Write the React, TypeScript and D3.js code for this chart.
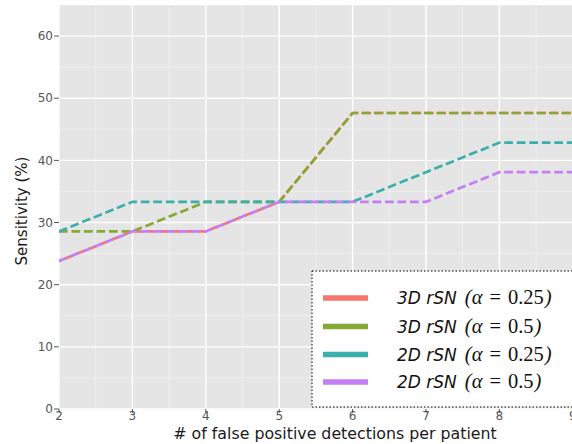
import React from "react";
import * as d3 from "d3";

const fpPerPatient = [2, 3, 4, 5, 6, 7, 8, 9];
const rsn3dA025 = [23.81, 28.57, 28.57, 33.33, 47.62, 47.62, 47.62, 47.62];
const rsn3dA05 = [28.57, 28.57, 33.33, 33.33, 47.62, 47.62, 47.62, 47.62];
const rsn2dA025 = [28.57, 33.33, 33.33, 33.33, 33.33, 38.1, 42.86, 42.86];
const rsn2dA05 = [23.81, 28.57, 28.57, 33.33, 33.33, 33.33, 38.1, 38.1];

const seriesNames = ["3D rSN", "3D rSN", "2D rSN", "2D rSN"];
const seriesAlphas = ["0.25", "0.5", "0.25", "0.5"];
const seriesValues = [rsn3dA025, rsn3dA05, rsn2dA025, rsn2dA05];
const seriesColors = ["#F8766D", "#86A834", "#3AAFAB", "#C47FF7"];
const seriesDashOffsets = [5.75, 0, 0, 0];

const yTicks = [0, 10, 20, 30, 40, 50, 60];
const yMinorTicks = [5, 15, 25, 35, 45, 55, 65];
const xTicks = [2, 3, 4, 5, 6, 7, 8, 9];
const xMinorTicks = [2.5, 3.5, 4.5, 5.5, 6.5, 7.5, 8.5];

const W = 572;
const H = 444;
const left = 59;
const top = 5;
const bottom = 409;
const panelRight = 600;

export default function App() {
  const x = d3.scaleLinear().domain([2, 9]).range([left, left + 7 * 73.4]);
  const y = d3.scaleLinear().domain([0, 65]).range([bottom, top]);
  const line = d3
    .line<number>()
    .x((_, i) => x(fpPerPatient[i]))
    .y((d) => y(d));

  const tickColor = "#555555";
  const legendX = 312;
  const legendY = 271;
  const rowY = [298, 326.5, 354.5, 382];
  const serif = "Liberation Serif, DejaVu Serif, serif";

  return (
    <svg
      width={W}
      height={H}
      style={{ position: "absolute", left: 0, top: 0, background: "#fff" }}
      fontFamily="DejaVu Sans, sans-serif"
    >
      <defs>
        <clipPath id="panel">
          <rect x={left} y={top} width={panelRight - left} height={bottom - top} />
        </clipPath>
      </defs>
      <rect x={left} y={top} width={panelRight - left} height={bottom - top} fill="#E5E5E5" />
      {/* minor grid */}
      {xMinorTicks.map((t) => (
        <line key={"xm" + t} x1={x(t)} x2={x(t)} y1={top} y2={bottom} stroke="#ffffff" strokeOpacity={0.55} strokeWidth={0.7} />
      ))}
      {yMinorTicks.map((t) => (
        <line key={"ym" + t} x1={left} x2={panelRight} y1={y(t)} y2={y(t)} stroke="#ffffff" strokeOpacity={0.55} strokeWidth={0.7} />
      ))}
      {/* major grid */}
      {xTicks.map((t) => (
        <line key={"xg" + t} x1={x(t)} x2={x(t)} y1={top} y2={bottom} stroke="#ffffff" strokeWidth={1.4} />
      ))}
      {yTicks.map((t) => (
        <line key={"yg" + t} x1={left} x2={panelRight} y1={y(t)} y2={y(t)} stroke="#ffffff" strokeWidth={1.4} />
      ))}
      {/* series */}
      <g clipPath="url(#panel)">
        {seriesValues.map((vals, i) => (
          <path
            key={"s" + i}
            d={line(vals) || ""}
            fill="none"
            stroke={seriesColors[i]}
            strokeWidth={2.7}
            strokeDasharray="8.7,3.8"
            strokeDashoffset={seriesDashOffsets[i]}
          />
        ))}
      </g>
      {/* y ticks */}
      {yTicks.map((t) => (
        <g key={"yt" + t}>
          <line x1={left - 5} x2={left} y1={y(t)} y2={y(t)} stroke={tickColor} strokeWidth={1} />
          <text x={left - 6} y={y(t)} dy="0.35em" textAnchor="end" fontSize={12} fill={tickColor}>
            {t}
          </text>
        </g>
      ))}
      {/* x ticks */}
      {xTicks.map((t) => (
        <g key={"xt" + t}>
          <line x1={x(t)} x2={x(t)} y1={bottom} y2={bottom + 4} stroke={tickColor} strokeWidth={1} />
          <text x={x(t)} y={419.5} textAnchor="middle" fontSize={12} fill={tickColor}>
            {t}
          </text>
        </g>
      ))}
      {/* axis titles */}
      <text x={335} y={438.5} textAnchor="middle" fontSize={15.8} fill="#1a1a1a">
        # of false positive detections per patient
      </text>
      <text
        transform={`translate(27,${(top + bottom) / 2 + 4}) rotate(-90)`}
        textAnchor="middle"
        fontSize={15}
        fill="#1a1a1a"
      >
        Sensitivity (%)
      </text>
      {/* legend */}
      <rect
        x={legendX}
        y={legendY}
        width={panelRight - legendX}
        height={407 - legendY}
        fill="#ffffff"
        stroke="#000"
        strokeWidth={1}
        strokeDasharray="1.5,2"
      />
      {seriesNames.map((name, i) => (
        <g key={"lg" + i}>
          <line x1={323} x2={368} y1={rowY[i]} y2={rowY[i]} stroke={seriesColors[i]} strokeWidth={5.5} />
          <text x={397} y={rowY[i]} dy="0.36em" fontSize={17} fill="#111">
            <tspan fontStyle="italic">{name}</tspan>
            <tspan dx={8} fontFamily={serif} fontSize={20.5} fontStyle="italic">(α</tspan>
            <tspan dx={7} fontFamily={serif} fontSize={20.5}>=</tspan>
            <tspan dx={7} fontFamily={serif} fontSize={20.5}>{seriesAlphas[i]}</tspan>
            <tspan dx={1} fontFamily={serif} fontSize={20.5} fontStyle="italic">)</tspan>
          </text>
        </g>
      ))}
    </svg>
  );
}
